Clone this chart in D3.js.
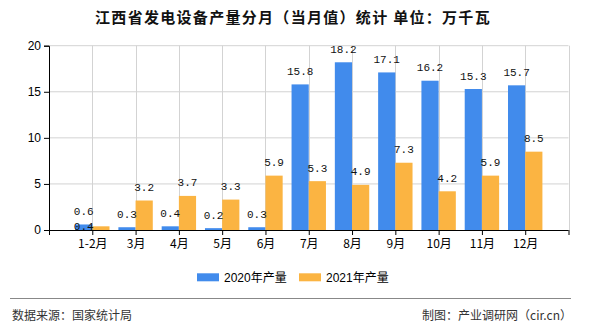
<!DOCTYPE html>
<html><head><meta charset="utf-8">
<script src="https://cdn.jsdelivr.net/npm/d3@7"></script>
<style>
body{margin:0;background:#fff;}
svg text{font-family:"Liberation Sans","Noto Sans CJK SC",sans-serif;}
svg text.val{font-family:"Liberation Mono","DejaVu Sans Mono",monospace;font-size:11px;}
</style></head>
<body><svg id="c" width="590" height="330"></svg>
<script>
const categories = ["1-2月","3月","4月","5月","6月","7月","8月","9月","10月","11月","12月"];
const values2020 = [0.6,0.3,0.4,0.2,0.3,15.8,18.2,17.1,16.2,15.3,15.7];
const values2021 = [0.4,3.2,3.7,3.3,5.9,5.3,4.9,7.3,4.2,5.9,8.5];
const seriesNames = ["2020年产量","2021年产量"];
const yTicks = [0,5,10,15,20];
const colors = ["#418bec","#fbb442"];

(function(){
const svg = d3.select("#c");
const pL=49, pR=568.5, pT=45.7, pB=230;
const x = d3.scaleLinear().domain([0,categories.length+1]).range([pL,pR]);
const y = d3.scaleLinear().domain([0,20]).range([pB,pT]);
const bw = 17.2;

// title
svg.append("text").attr("x",293).attr("y",23).attr("text-anchor","middle")
  .style("font-family","'Noto Sans CJK SC',sans-serif").style("font-size","15px")
  .style("font-weight","bold").style("letter-spacing","1.3px").attr("fill","#111")
  .text("江西省发电设备产量分月（当月值）统计 单位：万千瓦");

// grid
const g = svg.append("g");
g.selectAll(".hg").data(yTicks.filter(d=>d>0)).enter().append("line")
  .attr("x1",pL).attr("x2",pR).attr("y1",d=>y(d)).attr("y2",d=>y(d))
  .attr("stroke","#d3d3d3").attr("stroke-width",1);
g.selectAll(".vg").data(d3.range(1,categories.length+2)).enter().append("line")
  .attr("x1",d=>Math.round(x(d))+0.5).attr("x2",d=>Math.round(x(d))+0.5).attr("y1",pT).attr("y2",pB)
  .attr("stroke","#d3d3d3").attr("stroke-width",1);

// bars
const bars = svg.append("g");
[values2020,values2021].forEach((vals,s)=>{
  bars.selectAll(".b"+s).data(vals).enter().append("rect")
    .attr("x",(d,i)=> s===0 ? x(i+1)-bw : x(i+1))
    .attr("y",d=>y(d)).attr("width",bw).attr("height",d=>pB-y(d))
    .attr("fill",colors[s]);
});

// axes
const yAxis = d3.axisLeft(y).tickValues(yTicks).tickSize(5).tickPadding(3);
const ya = svg.append("g").attr("transform",`translate(${pL},0)`).call(yAxis);
ya.selectAll("text").style("font-size","12px").attr("fill","#000");
ya.selectAll("line,path").attr("stroke","#000");

const xAxis = d3.axisBottom(x).tickValues(d3.range(0,categories.length+2)).tickSize(5).tickPadding(4)
  .tickFormat(d=> (d>=1 && d<=categories.length) ? categories[d-1] : "");
const xa = svg.append("g").attr("transform",`translate(0,${pB})`).call(xAxis);
xa.selectAll("text").style("font-size","12px").style("font-family","'Noto Sans CJK SC',sans-serif").attr("fill","#000");
xa.selectAll("line,path").attr("stroke","#000");
xa.select("path").attr("d",`M${pL},0.5H${pR}`);

// value labels
const lab = svg.append("g");
[values2020,values2021].forEach((vals,s)=>{
  lab.selectAll(".l"+s).data(vals).enter().append("text").attr("class","val")
    .attr("text-anchor","middle").attr("fill","#111")
    .attr("x",(d,i)=>{
      let cx = s===0 ? x(i+1)-bw/2 : x(i+1)+bw/2;
      if(s===1 && i===0) cx = x(i+1)-bw/2; // collision shift as in reference
      return cx;})
    .attr("y",(d,i)=>{
      if(s===1 && i===0) return y(d)+4;
      return y(d)-9.5;})
    .text(d=>d.toFixed(1));
});

// legend
const lg = svg.append("g");
const lx = [197,299];
seriesNames.forEach((n,i)=>{
  lg.append("rect").attr("x",lx[i]).attr("y",273.3).attr("width",22).attr("height",8).attr("fill",colors[i]);
  lg.append("text").attr("x",lx[i]+27).attr("y",281.5).style("font-size","12px")
    .style("font-family","'Liberation Sans','Noto Sans CJK SC',sans-serif").attr("fill","#000").text(n);
});

// footer
svg.append("line").attr("x1",10).attr("x2",571).attr("y1",298.5).attr("y2",298.5).attr("stroke","#888").attr("stroke-width",1);
svg.append("text").attr("x",12).attr("y",320).style("font-size","12px").style("font-family","'Noto Sans CJK SC',sans-serif")
  .attr("fill","#333").text("数据来源：国家统计局");
svg.append("text").attr("x",572).attr("y",320).attr("text-anchor","end").style("font-size","12px").style("font-family","'Noto Sans CJK SC',sans-serif")
  .attr("fill","#333").text("制图：产业调研网（cir.cn）");
})();
</script></body></html>
